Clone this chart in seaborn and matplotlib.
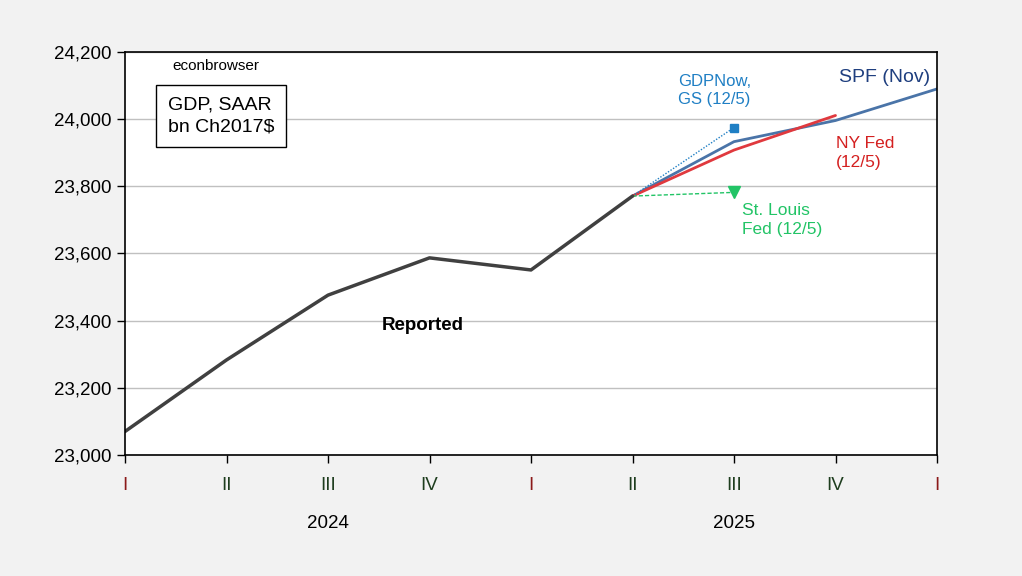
import pandas as pd
import numpy as np
import matplotlib.pyplot as plt
import seaborn as sns

# quarters 2024Q1 .. 2026Q1
quarters = ['I', 'II', 'III', 'IV', 'I', 'II', 'III', 'IV', 'I']
years = ['2024', '2025']

reported = [23070, 23283, 23476, 23587, 23551, 23771]
spf = [23771, 23933, 23996, 24090]
nyfed = [23771, 23908, 24011]
gdpnow = [23771, 23975]
stlouis = [23771, 23782]

sns.set_theme(style='white')
plt.rcParams['font.family'] = ['Liberation Sans', 'DejaVu Sans']
plt.rcParams['text.color'] = 'black'
plt.rcParams['ytick.color'] = 'black'
plt.rcParams['xtick.color'] = 'black'

fig = plt.figure(figsize=(10.22, 5.76), dpi=100, facecolor='#f2f2f2')
ax = fig.add_axes([125 / 1022, 1 - 455 / 576, 812 / 1022, 403 / 576])
ax.set_facecolor('white')

rep = pd.DataFrame({'q': range(len(reported)), 'v': reported})
sp = pd.DataFrame({'q': range(5, 5 + len(spf)), 'v': spf})
ny = pd.DataFrame({'q': range(5, 5 + len(nyfed)), 'v': nyfed})
gn = pd.DataFrame({'q': range(5, 5 + len(gdpnow)), 'v': gdpnow})
sl = pd.DataFrame({'q': range(5, 5 + len(stlouis)), 'v': stlouis})

sns.lineplot(data=sp, x='q', y='v', ax=ax, color='#4a74a8', lw=2)
sns.lineplot(data=ny, x='q', y='v', ax=ax, color='#e0393e', lw=2)
sns.lineplot(data=gn, x='q', y='v', ax=ax, color='#1f7fc4', lw=1, linestyle=(0, (1, 1.2)))
sns.lineplot(data=sl, x='q', y='v', ax=ax, color='#22c466', lw=1, linestyle=(0, (3, 1.5)))
sns.lineplot(data=rep, x='q', y='v', ax=ax, color='#404040', lw=2.5)
ax.plot(gn['q'].iloc[-1], gn['v'].iloc[-1], marker='s', ms=6, color='#1f7fc4')
ax.plot(sl['q'].iloc[-1], sl['v'].iloc[-1], marker='v', ms=9, color='#22c466')

ax.set_xlim(0, 8)
ax.set_ylim(23000, 24200)
yt = np.arange(23000, 24201, 200)
ax.set_yticks(yt)
ax.set_yticklabels([f'{int(v):,}' for v in yt], fontsize=13.5)
ax.yaxis.grid(True, color='#c0c0c0', lw=1)
ax.set_axisbelow(True)
ax.set_xticks(range(9))
ax.set_xticklabels(quarters, fontsize=13.5)
for i, lab in enumerate(ax.get_xticklabels()):
    lab.set_color('#8b1a1a' if quarters[i] == 'I' else '#1e3d1e')
ax.tick_params(axis='both', direction='out', length=6, width=1, color='black', left=True, bottom=True)
ax.tick_params(axis='x', pad=10)
ax.tick_params(axis='y', pad=4)
for s in ax.spines.values():
    s.set_color('black')
    s.set_linewidth(1.2)
ax.set_xlabel('')
ax.set_ylabel('')

for i, y in enumerate(years):
    ax.text(2 + 4 * i, -0.17, y, transform=ax.get_xaxis_transform(), ha='center', va='center', fontsize=13.5)

ax.text(0.9, 24158, 'econbrowser', ha='center', va='center', fontsize=11)
ax.text(0.42, 24010, 'GDP, SAAR\nbn Ch2017$', ha='left', va='center', fontsize=14, linespacing=1.35,
        bbox=dict(boxstyle='square,pad=0.6', fc='white', ec='black', lw=1))
ax.text(2.93, 23385, 'Reported', ha='center', va='center', fontsize=13.5, fontweight='bold')
ax.text(5.45, 24085, 'GDPNow,\nGS (12/5)', ha='left', va='center', fontsize=12, color='#1f7fc4', linespacing=1.3)
ax.text(7.03, 24125, 'SPF (Nov)', ha='left', va='center', fontsize=14, color='#1f3f7f')
ax.text(7.0, 23900, 'NY Fed\n(12/5)', ha='left', va='center', fontsize=12.5, color='#d42020', linespacing=1.3)
ax.text(6.08, 23700, 'St. Louis\nFed (12/5)', ha='left', va='center', fontsize=12.5, color='#22c466', linespacing=1.3)

fig.savefig('out.png', dpi=100, facecolor=fig.get_facecolor())
